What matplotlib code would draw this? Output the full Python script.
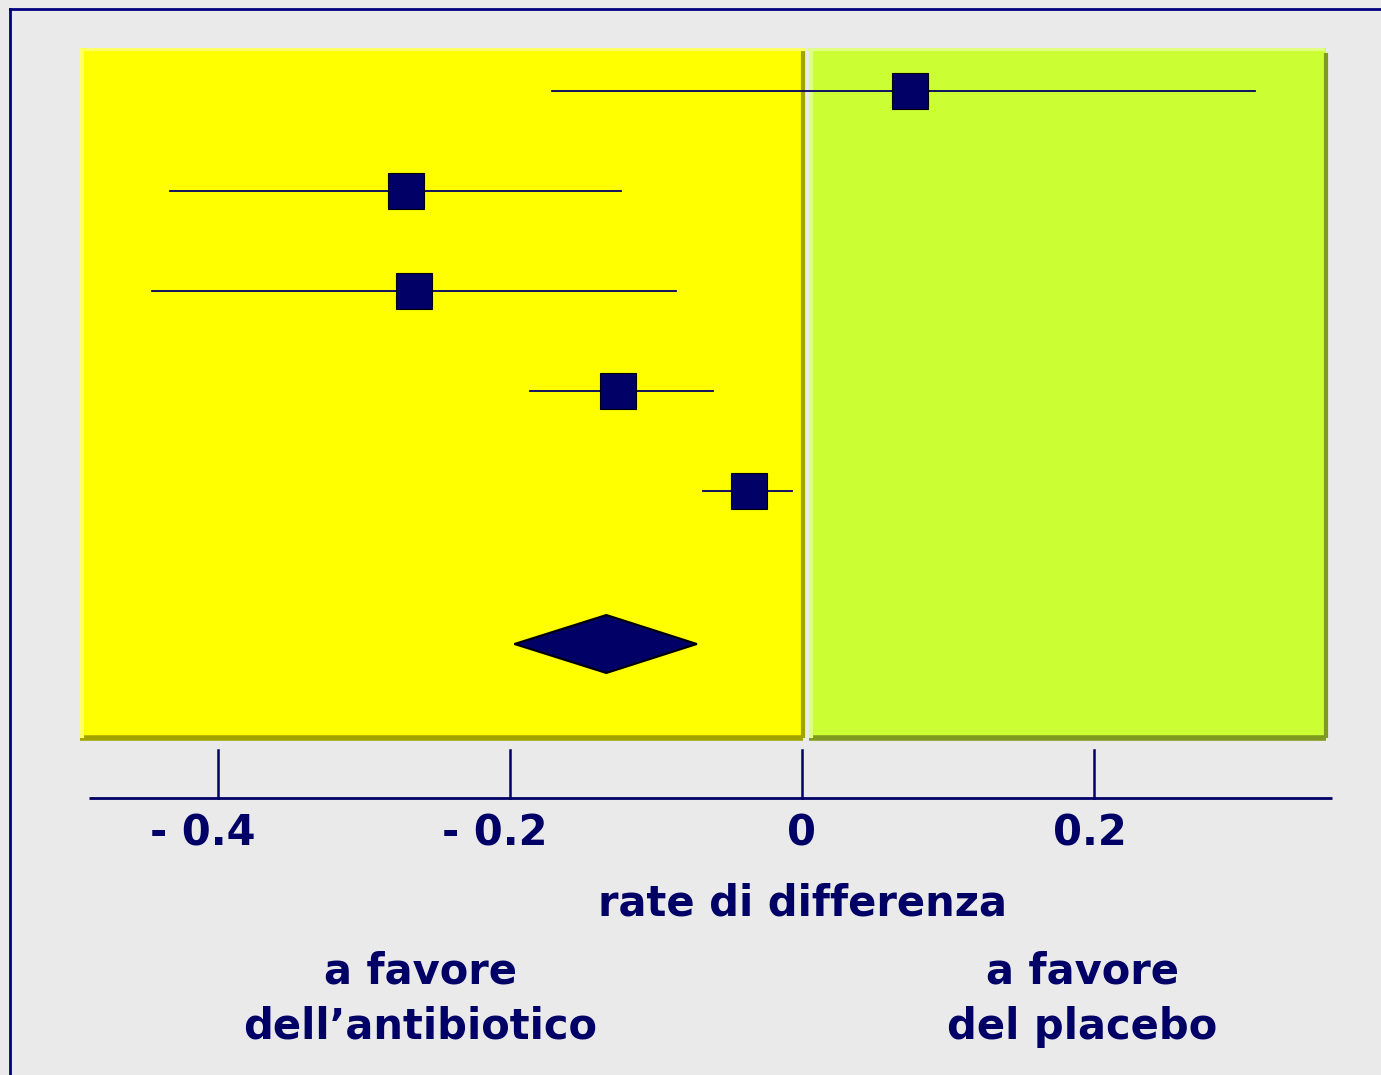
import matplotlib
matplotlib.use('Agg')
import matplotlib.pyplot as plt
import matplotlib.transforms as mtransforms
from matplotlib.patches import Rectangle, Polygon
from matplotlib.lines import Line2D

# forest plot data (rate difference)
rows = [1, 2, 3, 4, 5]
est = [0.074, -0.271, -0.266, -0.126, -0.036]
lo = [-0.171, -0.433, -0.445, -0.186, -0.068]
hi = [0.310, -0.124, -0.086, -0.061, -0.007]

# pooled estimate
pool_row = 6.53
pool_est = -0.134
pool_lo = -0.197
pool_hi = -0.072

ticks = [-0.4, -0.2, 0, 0.2]
tick_labels = ['- 0.4', '- 0.2', '0', '0.2']

navy = '#000066'
bg = '#EAEAEA'

W, H = 1381, 1075
fig = plt.figure(figsize=(W / 100, H / 100), dpi=100, facecolor=bg)

# plot area in pixels: x 80..1332, y 48..800
ax = fig.add_axes([80 / W, 1 - 800 / H, (1332 - 80) / W, (800 - 48) / H])
ax.set_xlim(-0.4945, 0.363)
ax.set_ylim(8.09, 0.57)
ax.axis('off')

# coloured panels
ax.add_patch(Rectangle((-0.4945, 0.57), 0.4945 + 0.0010, 7.47 - 0.57,
                       facecolor='#FFFF00', edgecolor='none', zorder=1))
ax.add_patch(Rectangle((0.0050, 0.57), 0.3590 - 0.0050, 7.47 - 0.57,
                       facecolor='#CCFF33', edgecolor='none', zorder=1))
# panel shading edges
ax.plot([-0.4945, 0.0010], [7.47, 7.47], color='#A3A300', lw=4, solid_capstyle='butt', zorder=2)
ax.plot([0.0010, 0.0010], [0.60, 7.47], color='#A3A300', lw=3, solid_capstyle='butt', zorder=2)
ax.plot([-0.4945, 0.0010], [0.58, 0.58], color='#FFFF66', lw=3, zorder=2)
ax.plot([-0.4930, -0.4930], [0.58, 7.45], color='#FFFF66', lw=3, zorder=2)
ax.plot([0.0050, 0.3590], [7.47, 7.47], color='#809A1F', lw=4, solid_capstyle='butt', zorder=2)
ax.plot([0.3590, 0.3590], [0.62, 7.47], color='#809A1F', lw=3, solid_capstyle='butt', zorder=2)
ax.plot([0.0050, 0.3570], [0.58, 0.58], color='#E0FF80', lw=3, zorder=2)
ax.plot([0.0060, 0.0060], [0.58, 7.45], color='#E0FF80', lw=3, zorder=2)

# confidence intervals and point estimates
for r, e, l, h in zip(rows, est, lo, hi):
    ax.plot([l, h], [r, r], color=navy, lw=1.3, zorder=3)
ax.plot(est, rows, 's', markersize=26, color=navy, mec='black', mew=0.8, zorder=4)

# pooled diamond
ax.add_patch(Polygon([(pool_lo, pool_row), (pool_est, pool_row - 0.29),
                      (pool_hi, pool_row), (pool_est, pool_row + 0.29)],
                     closed=True, facecolor=navy, edgecolor='black', lw=1.5, zorder=4))

# axis line and ticks
ax.plot([-0.488, 0.363], [8.07, 8.07], color=navy, lw=2, solid_capstyle='butt', zorder=3, clip_on=False)
for t in ticks:
    ax.plot([t, t], [7.59, 8.07], color=navy, lw=1.8, zorder=3, clip_on=False)

txt = dict(color=navy, fontweight='bold', family='DejaVu Sans')
for t, lab in zip(ticks, tick_labels):
    # negative labels sit a little to the left (the "- " prefix hangs out)
    shift = -11 if t < 0 else -3 if t > 0 else 0
    tr = ax.transData + mtransforms.ScaledTranslation(shift / 72, 0, fig.dpi_scale_trans)
    ax.text(t, 8.43, lab, ha='center', va='center', fontsize=30, clip_on=False,
            transform=tr, **txt)

fig.text(802 / W, 1 - 903 / H, 'rate di differenza', ha='center', va='center', fontsize=30, **txt)
fig.text(420 / W, 1 - 999 / H, 'a favore\ndell\u2019antibiotico', ha='center', va='center',
         fontsize=30, linespacing=1.42, **txt)
fig.text(1082 / W, 1 - 999 / H, 'a favore\ndel placebo', ha='center', va='center',
         fontsize=30, linespacing=1.42, **txt)

# frame around the slide
fig.add_artist(Line2D([9.5 / W, 9.5 / W], [0, 1 - 8.5 / H], color='#000080', lw=2,
                      transform=fig.transFigure))
fig.add_artist(Line2D([9.5 / W, 1], [1 - 8.5 / H, 1 - 8.5 / H], color='#000080', lw=2,
                      transform=fig.transFigure))

fig.savefig('out.png', dpi=100, facecolor=bg)
